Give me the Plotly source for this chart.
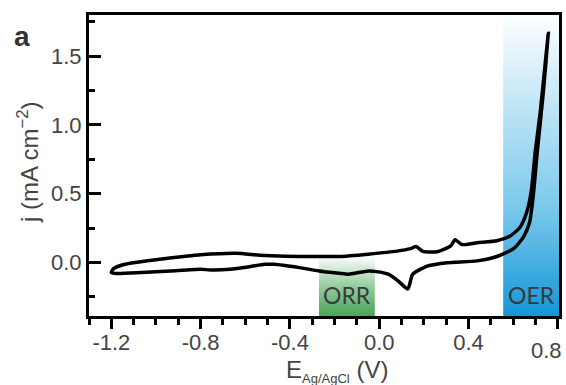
import plotly.graph_objects as go

# ---- data ----
e_forward = [-1.20, -1.19, -1.155, -1.11, -1.00, -0.93, -0.80, -0.64, -0.535, -0.42, -0.30,
             -0.18, -0.05, 0.08, 0.14, 0.165, 0.195, 0.26, 0.32, 0.34, 0.37, 0.438,
             0.527, 0.584, 0.628, 0.659, 0.681, 0.699, 0.721, 0.757]
j_forward = [-0.074, -0.045, -0.021, -0.005, 0.020, 0.033, 0.055, 0.066, 0.052, 0.045, 0.043,
             0.043, 0.060, 0.082, 0.100, 0.115, 0.080, 0.078, 0.120, 0.165, 0.130, 0.143,
             0.157, 0.190, 0.250, 0.358, 0.520, 0.810, 1.094, 1.667]
e_reverse = [0.757, 0.735, 0.708, 0.690, 0.673, 0.646, 0.602, 0.527, 0.438, 0.305, 0.217,
             0.150, 0.128, 0.084, 0.040, -0.004, -0.049, -0.137, -0.18, -0.27, -0.358,
             -0.47, -0.513, -0.58, -0.668, -0.757, -0.80, -0.934, -1.066, -1.177, -1.20]
j_reverse = [1.667, 1.240, 0.810, 0.490, 0.290, 0.186, 0.100, 0.043, 0.011, -0.002, -0.026,
             -0.086, -0.193, -0.134, -0.086, -0.069, -0.062, -0.086, -0.079, -0.062, -0.038,
             -0.014, -0.014, -0.031, -0.050, -0.055, -0.050, -0.062, -0.074, -0.081, -0.074]

orr_window = [-0.27, -0.02]   # potential window (V)
oer_window = [0.555, 0.805]
region_labels = ["ORR", "OER"]

x_tickvals = [-1.2, -0.8, -0.4, 0.0, 0.4, 0.8]
x_ticktext = ["-1.2", "-0.8", "-0.4", "0.0", "0.4", "0.8"]
y_tickvals = [0.0, 0.5, 1.0, 1.5]
y_ticktext = ["0.0", "0.5", "1.0", "1.5"]

x_range = [-1.3, 0.805]
y_range = [-0.39, 1.80]

fig = go.Figure()

# shaded regions with vertical gradient
def band(xr, ytop, cscale):
    y0 = y_range[0]
    fig.add_trace(go.Scatter(
        x=[xr[0], xr[1], xr[1], xr[0], xr[0]],
        y=[y0, y0, ytop, ytop, y0],
        fill="toself", mode="lines", line=dict(width=0),
        fillgradient=dict(type="vertical", colorscale=cscale, start=y0, stop=ytop),
        hoverinfo="skip", showlegend=False))

band(orr_window, 0.05, [[0, "rgb(72,165,92)"], [0.5, "rgb(150,205,160)"], [1, "rgb(255,255,255)"]])
band(oer_window, y_range[1], [[0, "rgb(20,150,215)"], [0.35, "rgb(120,200,235)"], [1, "rgb(255,255,255)"]])

fig.add_trace(go.Scatter(
    x=e_forward + e_reverse[1:], y=j_forward + j_reverse[1:],
    mode="lines", line=dict(color="black", width=3.5, shape="spline", smoothing=0.6),
    showlegend=False, hoverinfo="skip"))

FONT = "Liberation Sans, Arial, sans-serif"
tickfont = dict(family=FONT, size=22, color="#444444")

# last x tick label is drawn as an annotation (shifted left to stay inside the page)
x_ticktext_axis = x_ticktext[:-1] + [""]

fig.update_xaxes(
    range=x_range, showline=True, linecolor="black", linewidth=3, mirror=True,
    showgrid=False, zeroline=False,
    tickmode="array", tickvals=x_tickvals, ticktext=x_ticktext_axis,
    ticks="outside", ticklen=10, tickwidth=3, tickcolor="black", tickfont=tickfont,
    ticklabelstandoff=-5,
    minor=dict(ticks="outside", dtick=0.1, tick0=0, ticklen=6, tickwidth=2.5, tickcolor="black"))
fig.update_yaxes(
    range=y_range, showline=True, linecolor="black", linewidth=3, mirror=True,
    showgrid=False, zeroline=False,
    tickmode="array", tickvals=y_tickvals, ticktext=y_ticktext,
    ticks="inside", ticklen=12, tickwidth=3, tickcolor="black", tickfont=tickfont,
    minor=dict(ticks="inside", dtick=0.25, tick0=0, ticklen=6, tickwidth=2.5, tickcolor="black"))

fig.add_annotation(xref="x", yref="paper", x=x_tickvals[-1], y=-0.066, xanchor="right",
                   yanchor="top", xshift=6, text=x_ticktext[-1], showarrow=False, font=tickfont)

lblfont = dict(family="Lato, sans-serif", size=23, color="#3a3a3a")
fig.add_annotation(x=sum(orr_window) / 2, y=-0.235, text=region_labels[0], showarrow=False,
                   font=lblfont, xref="x", yref="y")
fig.add_annotation(x=sum(oer_window) / 2, y=-0.235, text=region_labels[1], showarrow=False,
                   font=lblfont, xref="x", yref="y")

titlefont = dict(family=FONT, size=24, color="#444444")
fig.add_annotation(xref="paper", yref="paper", x=-0.165, y=0.51, textangle=-90,
                   text="j (mA cm<sup>−2</sup>)", showarrow=False, font=titlefont)
fig.add_annotation(xref="paper", yref="paper", x=0.527, y=-0.182, yanchor="middle",
                   text="E<sub><span style='font-size:13px'>Ag/AgCl</span></sub> (V)",
                   showarrow=False, font=titlefont)
fig.add_annotation(xref="paper", yref="paper", x=-0.143, y=0.986, xanchor="center",
                   text="<b>a</b>", showarrow=False,
                   font=dict(family=FONT, size=28, color="#333333"))

fig.update_layout(
    width=566, height=385,
    margin=dict(l=89, r=4, t=15, b=69),
    plot_bgcolor="white", paper_bgcolor="white",
)

fig.write_html("out.html", config={"displayModeBar": False},
               post_script="document.body.style.margin='0px';")
